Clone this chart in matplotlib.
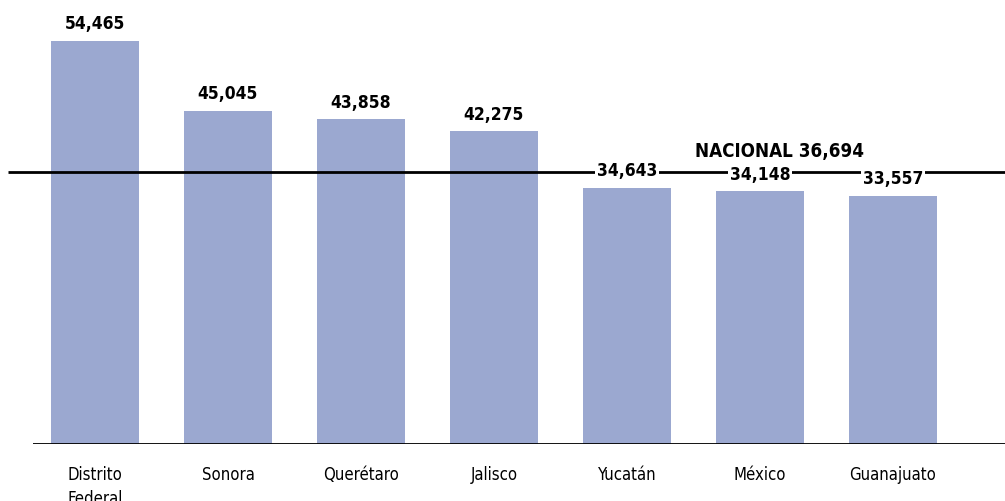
import matplotlib
matplotlib.use("Agg")
import matplotlib.pyplot as plt
from matplotlib import font_manager

estados = ["Distrito\nFederal", "Sonora", "Querétaro", "Jalisco",
           "Yucatán", "México", "Guanajuato"]
valores = [54465, 45045, 43858, 42275, 34643, 34148, 33557]
nacional = 36694

# fuente condensada si existe
condensadas = [f for f in font_manager.fontManager.ttflist
               if f.name == "DejaVu Sans" and f.stretch == "condensed"]
if condensadas:
    plt.rcParams['font.family'] = ['DejaVu Sans']
    plt.rcParams['font.stretch'] = 'condensed'
    tam_val, tam_nac, tam_cat = 12.5, 13.5, 12
else:
    plt.rcParams['font.family'] = ['Liberation Sans', 'DejaVu Sans']
    tam_val, tam_nac, tam_cat = 12, 13, 11.5

fig = plt.figure(figsize=(10.05, 5.02), dpi=100)
ax = fig.add_axes([33 / 1005, 57 / 502, 1 - 33 / 1005, 1 - 57 / 502])

x = list(range(len(valores)))
ax.bar(x, valores, width=0.662, color="#9BA8D0", zorder=2)

# escala: barra mayor llega a 42 px desde arriba
escala = 403 / max(valores)
ax.set_ylim(0, 445 / escala)
ax.set_xlim(-0.466, 6.842)

ax.hlines(nacional, -0.654, 6.842, color="black", linewidth=2, clip_on=False, zorder=3)

for xi, v in zip(x, valores):
    ax.annotate(f"{v:,}", (xi, v), xytext=(0, 9), textcoords="offset points",
                ha="center", va="baseline", fontsize=tam_val, fontweight="bold",
                zorder=5, bbox=dict(boxstyle="square,pad=0.1", fc="white", ec="none"))

ax.annotate(f"NACIONAL {nacional:,}", (5.147, nacional), xytext=(0, 12),
            textcoords="offset points", ha="center", va="baseline",
            fontsize=tam_nac, fontweight="bold")

ax.axhline(0, color="black", linewidth=1.3, zorder=4)

ax.set_xticks(x)
ax.set_xticklabels(estados, fontsize=tam_cat, linespacing=1.45)
ax.tick_params(axis="x", length=0, pad=15)
ax.set_yticks([])
for s in ax.spines.values():
    s.set_visible(False)

fig.savefig("out.png", dpi=100)
